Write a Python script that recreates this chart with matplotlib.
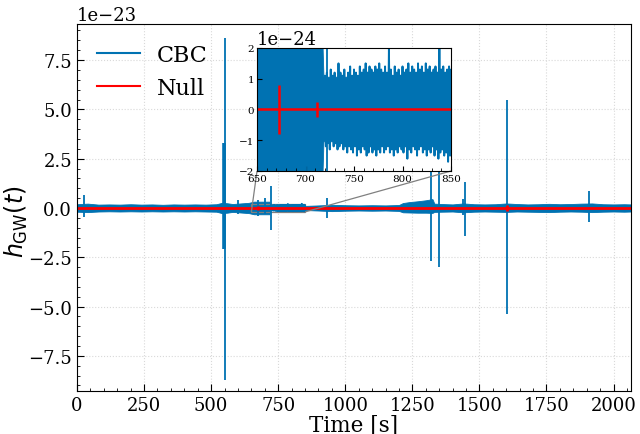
import numpy as np
import matplotlib.pyplot as plt
from matplotlib.ticker import AutoMinorLocator, MultipleLocator
from mpl_toolkits.axes_grid1.inset_locator import mark_inset

plt.rcParams['font.family'] = ['DejaVu Serif']
plt.rcParams['mathtext.fontset'] = 'dejavusans'

# background noise envelope of the CBC strain (units of 1e-24)
band_t = [0, 40, 80, 120, 160, 200, 240, 280, 320, 360, 400, 440, 480, 520,
          540, 560, 580, 600, 620, 640, 660, 680, 700, 717, 719, 760, 800,
          850, 900, 950, 1000, 1050, 1100, 1150, 1200, 1215, 1240, 1270,
          1300, 1325, 1332, 1360, 1400, 1440, 1480, 1520, 1560, 1600, 1640,
          1680, 1720, 1760, 1800, 1840, 1880, 1920, 1960, 2000, 2040, 2065]
band_hi = [1.9, 2.2, 1.7, 1.8, 1.7, 1.9, 1.7, 1.8, 1.6, 1.8, 1.7, 1.8, 1.7,
           1.9, 2.6, 2.4, 2.0, 2.2, 2.4, 2.6, 3.2, 3.2, 3.2, 3.2, 1.05, 1.05,
           1.05, 1.05, 1.3, 1.6, 1.4, 1.3, 1.4, 1.3, 1.5, 2.5, 3.0, 3.4, 3.9,
           4.5, 2.2, 2.0, 1.8, 2.3, 1.9, 1.8, 1.9, 2.3, 2.0, 1.8, 1.9, 2.1,
           1.9, 2.0, 2.2, 2.3, 1.9, 1.8, 1.9, 1.8]
band_lo = [-1.9, -2.1, -1.8, -1.7, -1.8, -1.7, -1.8, -1.7, -1.8, -1.7, -1.8,
           -1.7, -1.8, -1.9, -2.6, -2.4, -2.0, -2.2, -2.4, -2.6, -3.2, -3.2,
           -3.2, -3.2, -1.05, -1.05, -1.05, -1.05, -1.3, -1.6, -1.4, -1.3, -1.4,
           -1.3, -1.5, -2.2, -2.3, -2.4, -2.4, -2.5, -2.0, -1.9, -1.8, -2.2,
           -1.9, -1.8, -1.9, -2.0, -1.8, -1.9, -2.0, -2.1, -1.9, -1.8, -1.9,
           -2.1, -1.9, -1.8, -1.9, -1.8]

# finer noise peaks in the zoomed window 718-850 s (units of 1e-24)
fine_t = list(range(718, 851, 2))
fine_hi = [1.0, 1.1, 1.2, 1.0, 1.3, 1.1, 1.2, 1.0, 1.5, 1.2, 1.1, 1.3, 1.0,
           1.2, 1.4, 1.1, 1.3, 1.2, 1.1, 1.4, 1.2, 1.3, 1.5, 1.2, 1.4, 1.3,
           1.2, 1.4, 1.3, 1.5, 1.3, 1.2, 1.4, 1.2, 2.0, 1.3, 1.1, 1.4, 1.2,
           1.3, 1.1, 1.4, 1.2, 1.3, 1.5, 1.2, 1.4, 1.3, 1.2, 1.5, 1.3, 1.4,
           1.2, 1.5, 1.3, 1.4, 1.2, 1.3, 1.4, 1.2, 2.1, 1.3, 1.4, 1.2, 1.3,
           1.4, 1.3]
fine_lo = [-1.0, -1.2, -1.1, -1.3, -1.0, -1.2, -1.1, -1.3, -1.2, -1.1, -1.3,
           -1.2, -1.4, -1.2, -1.3, -1.4, -1.2, -1.5, -1.3, -1.4, -1.2, -1.3,
           -1.5, -1.4, -1.2, -1.4, -1.3, -1.5, -1.3, -1.4, -1.2, -1.4, -1.3,
           -1.2, -1.4, -1.3, -1.5, -1.3, -1.4, -1.2, -1.3, -1.4, -1.2, -1.6,
           -1.3, -1.4, -1.2, -1.3, -1.5, -1.3, -1.2, -1.4, -1.3, -1.5, -1.3,
           -1.4, -1.2, -1.5, -1.3, -1.6, -1.4, -1.3, -1.5, -1.4, -1.7, -1.5,
           -1.4]

# loud CBC events (time [s], max, min in units of 1e-23)
spike_t = [26, 551, 600, 676, 700, 722, 931, 1319, 1349, 1440, 1446, 1602, 1908]
spike_hi = [0.66, 8.6, 0.4, 0.4, 0.5, 1.1, 0.5, 2.3, 2.3, 0.45, 1.3, 5.5, 0.86]
spike_lo = [-0.45, -8.7, -0.3, -0.4, -0.3, -1.1, -0.5, -2.7, -3.0, -0.35, -1.4, -5.4, -0.7]
# broad merger part of the loudest event
hump_t = [548]
hump_hi = [3.3]
hump_lo = [-2.1]

# Null (no signal) series and its small glitches (units of 1e-24)
null_t = [0, 2065]
null_h = [0, 0]
null_spike_t = [673, 712, 1602]
null_spike_a = [0.8, 0.25, 1.5]

C = '#0072b2'


def draw(a, lw_line):
    a.fill_between(band_t, np.array(band_lo) * 1e-24, np.array(band_hi) * 1e-24,
                   color=C, lw=0.6)
    zx = np.ravel(np.column_stack([fine_t, np.array(fine_t) + 1]))
    zy = np.ravel(np.column_stack([fine_hi, fine_lo])) * 1e-24
    a.plot(zx, zy, color=C, lw=1.4, label='CBC')
    a.vlines(spike_t, np.array(spike_lo) * 1e-23, np.array(spike_hi) * 1e-23,
             color=C, lw=1.3)
    a.vlines(hump_t, np.array(hump_lo) * 1e-23, np.array(hump_hi) * 1e-23,
             color=C, lw=2.6)
    a.plot(null_t, null_h, color='red', lw=lw_line, label='Null')
    a.vlines(null_spike_t, -np.array(null_spike_a) * 1e-24,
             np.array(null_spike_a) * 1e-24, color='red', lw=lw_line)


fig = plt.figure(figsize=(6.4, 4.35), dpi=100)
ax = fig.add_axes([0.1203, 0.0989, 0.8656, 0.8437])
draw(ax, 2.0)

ax.set_xlim(0, 2065)
ax.set_ylim(-9.28e-23, 9.33e-23)
ax.xaxis.set_major_locator(MultipleLocator(250))
ax.yaxis.set_major_locator(MultipleLocator(2.5e-23))
ax.xaxis.set_minor_locator(AutoMinorLocator(5))
ax.yaxis.set_minor_locator(AutoMinorLocator(5))
ax.tick_params(which='both', direction='in', labelsize=13)
ax.tick_params(which='major', length=5)
ax.tick_params(which='minor', length=2.5)
ax.yaxis.get_offset_text().set_fontsize(13)
ax.grid(True, ls=':', color='0.85', lw=0.8)
ax.set_axisbelow(True)
ax.set_xlabel('Time [s]', fontsize=15.5)
ax.xaxis.set_label_coords(0.5, -0.061)
ax.set_ylabel(r'$h_{\rm GW}(t)$', fontsize=17)
ax.yaxis.set_label_coords(-0.085, 0.465)

handles, labels = ax.get_legend_handles_labels()
leg = ax.legend(handles, labels, loc='upper left', fontsize=16, frameon=False,
                handlelength=1.95, handletextpad=0.75, borderaxespad=0.5)
for h in leg.get_lines():
    h.set_linewidth(1.5)

axins = fig.add_axes([0.4016, 0.6046, 0.3031, 0.2828])
draw(axins, 1.8)
axins.set_xlim(650, 850)
axins.set_ylim(-2e-24, 2e-24)
axins.xaxis.set_major_locator(MultipleLocator(50))
axins.yaxis.set_major_locator(MultipleLocator(1e-24))
axins.xaxis.set_minor_locator(AutoMinorLocator(5))
axins.tick_params(which='both', direction='in', labelsize=7.5, pad=2)
axins.tick_params(which='major', length=3.5)
axins.tick_params(which='minor', length=2)
axins.yaxis.get_offset_text().set_fontsize(13)
mark_inset(ax, axins, loc1=3, loc2=4, fc='none', ec='0.5', lw=0.9)

fig.savefig('out.png', dpi=100)
